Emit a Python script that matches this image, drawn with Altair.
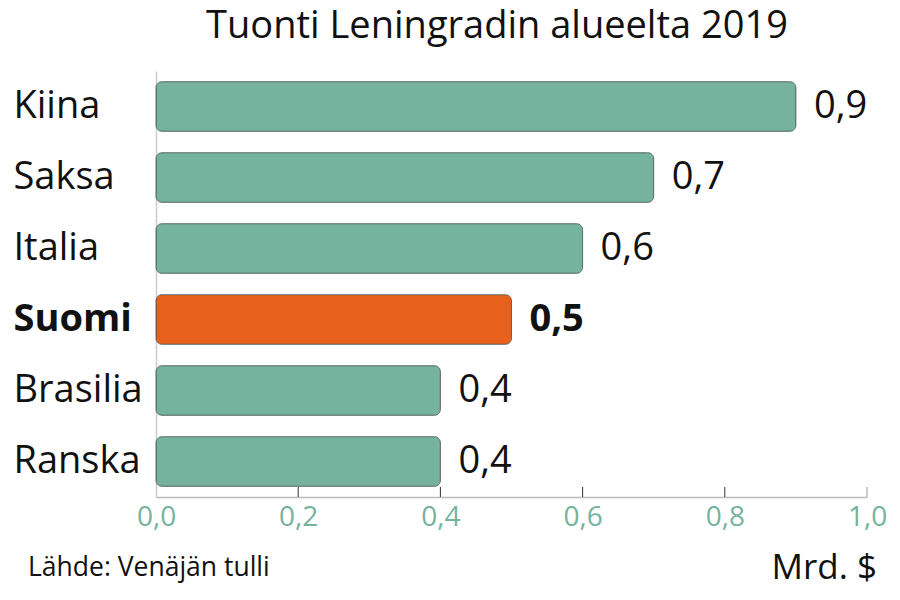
import altair as alt
import pandas as pd

countries = ["Kiina", "Saksa", "Italia", "Suomi", "Brasilia", "Ranska"]
values = [0.9, 0.7, 0.6, 0.5, 0.4, 0.4]
highlight = [False, False, False, True, False, False]
x_ticks = [0.0, 0.2, 0.4, 0.6, 0.8, 1.0]
inner_ticks = [0.2, 0.4, 0.6, 0.8]
end_ticks = [1.0]

title_text = "Tuonti Leningradin alueelta 2019"
source_text = "Lähde: Venäjän tulli"
unit_text = "Mrd. $"

FONT = "Open Sans"
GREEN = "#75b39e"
ORANGE = "#e8611c"
W, H = 711, 426

df = pd.DataFrame({
    "country": countries,
    "value": values,
    "hl": highlight,
    "label": [f"{v:.1f}".replace(".", ",") for v in values],
})

y_enc = alt.Y("country:N", sort=countries,
              scale=alt.Scale(paddingInner=0.3, paddingOuter=0.15),
              axis=alt.Axis(title=None, ticks=False, domain=True, domainColor="#cccccc",
                            domainWidth=1.5,
                            labelAlign="left", labelPadding=143, labelFontSize=38,
                            labelFont=FONT, labelColor="#111111", labelBaseline="middle",
                            labelFontWeight=alt.expr("datum.value == 'Suomi' ? 'bold' : 'normal'")))
x_scale = alt.Scale(domain=[0, 1], nice=False)
x_enc = alt.X("value:Q", scale=x_scale,
              axis=alt.Axis(title=None, values=x_ticks, ticks=False, grid=False,
                            domainColor="#bbbbbb", domainWidth=1.5,
                            labelColor=GREEN, labelFontSize=28, labelFont=FONT,
                            labelPadding=6, labelFlush=False,
                            labelExpr="replace(format(datum.value, '.1f'), '.', ',')"))

bars = alt.Chart(df).mark_bar(cornerRadius=6, stroke="#4a5a54", strokeWidth=0.8).encode(
    x=x_enc, y=y_enc,
    color=alt.Color("hl:N", scale=alt.Scale(domain=[False, True], range=[GREEN, ORANGE]), legend=None),
)

labels = alt.Chart(df).transform_filter("!datum.hl").mark_text(
    align="left", baseline="middle", dx=18, fontSize=38,
    font=FONT, color="#111111").encode(
    x=alt.X("value:Q", scale=x_scale),
    y=alt.Y("country:N", sort=countries),
    text="label:N",
)
labels_bold = alt.Chart(df).transform_filter("datum.hl").mark_text(
    align="left", baseline="middle", dx=18, fontSize=38, fontWeight="bold",
    font=FONT, color="#111111").encode(
    x=alt.X("value:Q", scale=x_scale),
    y=alt.Y("country:N", sort=countries),
    text="label:N",
)

tick_df = pd.DataFrame({"t": inner_ticks})
ticks = alt.Chart(tick_df).mark_rule(color="#333333", strokeWidth=1).encode(
    x=alt.X("t:Q", scale=x_scale),
    y=alt.value(H - 10), y2=alt.value(H),
)
end_df = pd.DataFrame({"t": end_ticks})
end_tick = alt.Chart(end_df).mark_rule(color="#bbbbbb", strokeWidth=1.5).encode(
    x=alt.X("t:Q", scale=x_scale),
    y=alt.value(H - 10), y2=alt.value(H),
)

one = pd.DataFrame({"a": [0]})
title = alt.Chart(one).mark_text(align="center", baseline="alphabetic", fontSize=38,
                                 font=FONT, color="#111111").encode(
    x=alt.value(341), y=alt.value(-33), text=alt.value(title_text))
source = alt.Chart(one).mark_text(align="left", baseline="middle", fontSize=26.5,
                                  font=FONT, color="#111111").encode(
    x=alt.value(-128), y=alt.value(497), text=alt.value(source_text))
unit = alt.Chart(one).mark_text(align="right", baseline="middle", fontSize=35,
                                font=FONT, color="#111111").encode(
    x=alt.value(721), y=alt.value(497), text=alt.value(unit_text))

chart = alt.layer(bars, labels, labels_bold, ticks, end_tick, title, source, unit).properties(
    width=W, height=H,
    autosize=alt.AutoSizeParams(type="none"),
    padding={"left": 148, "top": 63, "right": 25, "bottom": 95},
).configure(background="white").configure_view(stroke=None)

chart.save("out.html", embed_options={"renderer": "svg", "actions": False})
